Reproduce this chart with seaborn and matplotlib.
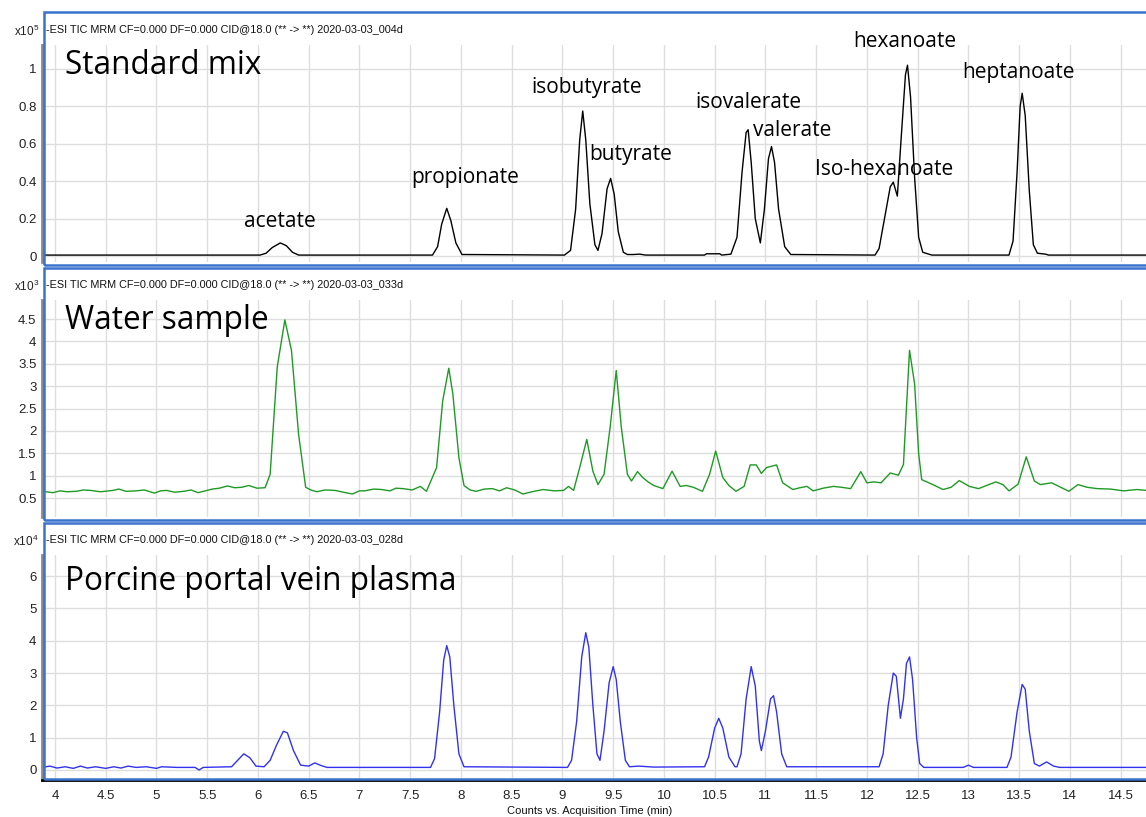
import matplotlib
matplotlib.use("Agg")
import matplotlib.pyplot as plt
import seaborn as sns
from matplotlib.patches import Rectangle

# ---- data (time in min, signal in axis units) ----
std_time = [3.87, 6.02, 6.08, 6.14, 6.22, 6.28, 6.34, 6.40, 7.72, 7.77, 7.81, 7.86, 7.90, 7.95, 8.01,
            9.02, 9.08, 9.13, 9.17, 9.20, 9.23, 9.27, 9.32, 9.35, 9.39, 9.44, 9.475, 9.51, 9.55, 9.60,
            9.64, 9.70, 9.76, 9.82, 10.40, 10.42, 10.55, 10.57, 10.66, 10.72, 10.77, 10.81, 10.83,
            10.86, 10.90, 10.95, 10.99, 11.03, 11.06, 11.09, 11.13, 11.19, 11.25, 12.08, 12.12, 12.18,
            12.23, 12.26, 12.30, 12.34, 12.38, 12.40, 12.43, 12.47, 12.51, 12.55, 12.61, 12.64, 13.40,
            13.44, 13.48, 13.51, 13.53, 13.56, 13.60, 13.64, 13.68, 13.76, 13.79, 14.80]
std_signal = [0.005, 0.005, 0.015, 0.045, 0.07, 0.055, 0.02, 0.005, 0.005, 0.05, 0.17, 0.255, 0.19, 0.07, 0.008,
              0.005, 0.03, 0.25, 0.62, 0.775, 0.62, 0.28, 0.06, 0.03, 0.12, 0.36, 0.415, 0.33, 0.13, 0.02,
              0.008, 0.008, 0.01, 0.005, 0.005, 0.012, 0.012, 0.005, 0.01, 0.1, 0.45, 0.66, 0.675,
              0.5, 0.2, 0.07, 0.25, 0.52, 0.585, 0.5, 0.25, 0.05, 0.008, 0.005, 0.04, 0.22,
              0.37, 0.395, 0.32, 0.65, 0.97, 1.02, 0.85, 0.42, 0.1, 0.02, 0.01, 0.005, 0.005,
              0.08, 0.45, 0.8, 0.87, 0.75, 0.35, 0.06, 0.015, 0.01, 0.005, 0.005]

water_time = [3.87, 3.91, 3.98, 4.05, 4.12, 4.21, 4.28, 4.35, 4.45, 4.57, 4.63, 4.70, 4.80, 4.88, 4.98,
              5.04, 5.10, 5.18, 5.27, 5.34, 5.41, 5.48, 5.55, 5.62, 5.70, 5.77, 5.84, 5.91, 5.99,
              6.07, 6.12, 6.19, 6.265, 6.33, 6.40, 6.47, 6.52, 6.58, 6.66, 6.76, 6.84, 6.93, 7.00, 7.05,
              7.14, 7.22, 7.30, 7.36, 7.43, 7.52, 7.60, 7.66,
              7.76, 7.82, 7.88, 7.92, 7.98, 8.03, 8.09, 8.15, 8.23, 8.31, 8.38, 8.45, 8.53, 8.61, 8.70,
              8.81, 8.92, 9.01, 9.06, 9.11, 9.17,
              9.24, 9.30, 9.35, 9.41, 9.47, 9.53, 9.58, 9.64, 9.68, 9.74, 9.79, 9.85, 9.90, 9.99, 10.08,
              10.16, 10.22, 10.29, 10.38, 10.45, 10.51, 10.58, 10.64, 10.71, 10.79, 10.85, 10.91, 10.96,
              11.01, 11.11, 11.17, 11.27, 11.34, 11.41, 11.47, 11.57, 11.67, 11.75, 11.84, 11.94, 12.00,
              12.07, 12.14, 12.23, 12.31, 12.36, 12.42, 12.47, 12.51, 12.54, 12.65, 12.75, 12.83, 12.91,
              13.01, 13.10, 13.18, 13.27, 13.34, 13.40, 13.49, 13.57, 13.65, 13.71,
              13.82, 13.90, 13.99, 14.08, 14.17, 14.27, 14.40, 14.53, 14.66, 14.80]
water_signal = [0.64, 0.64, 0.62, 0.66, 0.64, 0.65, 0.68, 0.67, 0.64, 0.67, 0.70, 0.65, 0.66, 0.68, 0.61,
                0.66, 0.67, 0.63, 0.65, 0.68, 0.62, 0.66, 0.70, 0.72, 0.77, 0.73, 0.74, 0.78, 0.72,
                0.73, 1.03, 3.43, 4.48, 3.80, 1.93, 0.74, 0.68, 0.64, 0.68, 0.67, 0.63, 0.59, 0.66, 0.66,
                0.70, 0.69, 0.66, 0.72, 0.71, 0.68, 0.76, 0.65,
                1.18, 2.67, 3.40, 2.83, 1.40, 0.78, 0.68, 0.65, 0.70, 0.71, 0.66, 0.73, 0.68, 0.59, 0.64,
                0.69, 0.66, 0.67, 0.76, 0.67, 1.18,
                1.81, 1.10, 0.80, 1.03, 2.08, 3.35, 2.08, 1.03, 0.88, 1.09, 0.96, 0.85, 0.78, 0.71, 1.10,
                0.76, 0.78, 0.74, 0.65, 1.03, 1.55, 0.96, 0.78, 0.65, 0.76, 1.24, 1.24, 1.05,
                1.18, 1.24, 0.84, 0.69, 0.73, 0.76, 0.66, 0.72, 0.76, 0.74, 0.71, 1.09, 0.84,
                0.86, 0.84, 1.06, 1.01, 1.25, 3.80, 3.05, 1.49, 0.91, 0.80, 0.69, 0.74, 0.89,
                0.76, 0.71, 0.78, 0.86, 0.80, 0.66, 0.81, 1.42, 0.88, 0.80,
                0.84, 0.75, 0.65, 0.80, 0.74, 0.71, 0.70, 0.66, 0.69, 0.66]

plasma_time = [3.87, 3.95, 4.02, 4.10, 4.18, 4.25, 4.32, 4.40, 4.50, 4.58, 4.65, 4.72, 4.80, 4.90, 5.00,
               5.05, 5.20, 5.38, 5.42, 5.46, 5.74, 5.80, 5.86, 5.92, 5.98, 6.06, 6.12, 6.18, 6.25, 6.29,
               6.35, 6.42, 6.50, 6.56, 6.62, 6.68, 7.70, 7.74, 7.79, 7.83, 7.86, 7.89, 7.93, 7.98, 8.03,
               9.05, 9.09, 9.14, 9.19, 9.23, 9.26, 9.30, 9.34, 9.37, 9.41, 9.46, 9.50, 9.53, 9.57, 9.62,
               9.66, 9.75, 9.90, 10.40, 10.44, 10.50, 10.54, 10.58, 10.64, 10.70, 10.72, 10.76, 10.81,
               10.86, 10.90, 10.94, 10.96, 11.00, 11.05, 11.08, 11.11, 11.16, 11.21, 12.12, 12.16, 12.21,
               12.26, 12.29, 12.33, 12.36, 12.39, 12.42, 12.45, 12.49, 12.52, 12.56, 12.95, 13.00, 13.05,
               13.38, 13.42, 13.48, 13.53, 13.56, 13.60, 13.65, 13.70, 13.77, 13.84, 13.90, 14.80]
plasma_signal = [0.08, 0.12, 0.06, 0.10, 0.05, 0.12, 0.06, 0.10, 0.05, 0.10, 0.06, 0.12, 0.08, 0.10, 0.05,
                 0.10, 0.08, 0.08, 0.00, 0.08, 0.10, 0.30, 0.50, 0.38, 0.12, 0.10, 0.30, 0.75, 1.20, 1.15,
                 0.60, 0.15, 0.12, 0.22, 0.14, 0.08, 0.08, 0.35, 1.80, 3.40, 3.85, 3.50, 2.00, 0.50, 0.10,
                 0.08, 0.30, 1.50, 3.50, 4.25, 3.80, 2.00, 0.50, 0.30, 1.20, 2.70, 3.20, 2.80, 1.50, 0.30,
                 0.10, 0.12, 0.09, 0.10, 0.40, 1.30, 1.60, 1.30, 0.40, 0.10, 0.10, 0.50, 2.20,
                 3.20, 2.60, 0.90, 0.60, 1.20, 2.20, 2.30, 1.80, 0.50, 0.10, 0.10, 0.50, 2.00,
                 3.00, 2.90, 1.60, 2.20, 3.30, 3.50, 2.80, 1.00, 0.20, 0.08, 0.08, 0.15, 0.08,
                 0.08, 0.40, 1.80, 2.65, 2.50, 1.20, 0.20, 0.12, 0.25, 0.12, 0.08, 0.08]

peak_names = ["acetate", "propionate", "isobutyrate", "butyrate", "isovalerate", "valerate",
              "Iso-hexanoate", "hexanoate", "heptanoate"]
peak_label_time = [6.22, 8.04, 9.24, 9.67, 10.83, 11.26, 12.17, 12.37, 13.49]
peak_label_height = [0.187, 0.42, 0.90, 0.54, 0.82, 0.67, 0.465, 1.145, 0.98]

x_ticks = [4, 4.5, 5, 5.5, 6, 6.5, 7, 7.5, 8, 8.5, 9, 9.5, 10, 10.5, 11, 11.5, 12, 12.5, 13, 13.5, 14, 14.5]
std_yticks = [0, 0.2, 0.4, 0.6, 0.8, 1]
water_yticks = [0.5, 1, 1.5, 2, 2.5, 3, 3.5, 4, 4.5]
plasma_yticks = [0, 1, 2, 3, 4, 5, 6]

headers = ["-ESI TIC MRM CF=0.000 DF=0.000 CID@18.0 (** -> **) 2020-03-03_004d",
           "-ESI TIC MRM CF=0.000 DF=0.000 CID@18.0 (** -> **) 2020-03-03_033d",
           "-ESI TIC MRM CF=0.000 DF=0.000 CID@18.0 (** -> **) 2020-03-03_028d"]
exponents = [r"x10$^5$", r"x10$^3$", r"x10$^4$"]
sample_names = ["Standard mix", "Water sample", "Porcine portal vein plasma"]

# ---- figure ----
sns.set_style("white")
plt.rcParams['font.family'] = ['DejaVu Sans']
plt.rcParams['mathtext.default'] = 'regular'

W, H = 1146, 817
fig = plt.figure(figsize=(W / 100, H / 100), dpi=100)


def fx(px):
    return px / W


def fy(py):
    return 1 - py / H


narrow = ['Liberation Sans Narrow', 'Liberation Sans']
frame_blue = '#3a72cc'

# (axes top, axes bottom, ylim, frame top, frame bottom, header y, title y)
panels = [
    (45, 262, (-0.032, 1.128), 12, 265, 30, 66),
    (300, 517, (0.076, 4.925), 268, 520, 285, 320),
    (555, 780, (-0.31, 6.656), 523, 779, 540, 581),
]
series = [(std_time, std_signal, 'black', std_yticks),
          (water_time, water_signal, '#1f9a25', water_yticks),
          (plasma_time, plasma_signal, '#3232ee', plasma_yticks)]

axes = []
for i, (top, bottom, ylim, ftop, fbot, hy, ty) in enumerate(panels):
    ax = fig.add_axes([fx(42), fy(bottom), 1 - fx(42), fy(top) - fy(bottom)])
    t, s, col, yt = series[i]
    sns.lineplot(x=t, y=s, ax=ax, color=col, linewidth=1.0, estimator=None, sort=False)
    ax.set_xlim(3.872, 14.75)
    ax.set_ylim(*ylim)
    ax.set_xticks(x_ticks)
    ax.set_yticks(yt)
    ax.set_yticklabels([f"{v:g}" for v in yt], family=narrow, fontsize=9.5)
    ax.grid(True, color='#dedede', linewidth=1.0)
    ax.set_axisbelow(True)
    for side in ['top', 'right']:
        ax.spines[side].set_visible(False)
    ax.spines['left'].set_color('#8a8a8a')
    ax.spines['left'].set_linewidth(2)
    ax.tick_params(axis='y', length=3, width=0.8, color='#555555', pad=1, labelcolor='#222222')
    if i < 2:
        ax.spines['bottom'].set_visible(False)
        ax.tick_params(axis='x', length=0, labelbottom=False)
    else:
        ax.spines['bottom'].set_color('black')
        ax.spines['bottom'].set_linewidth(2)
        ax.set_xticklabels([f"{v:g}" for v in x_ticks], family=narrow, fontsize=9.5)
        ax.tick_params(axis='x', length=4, width=0.8, color='#444444', pad=3, labelcolor='#222222')
    ax.set_xlabel("")
    ax.set_ylabel("")
    axes.append(ax)

    fig.patches.append(Rectangle((fx(44), fy(fbot)), 1.2, fy(ftop) - fy(fbot), transform=fig.transFigure,
                                 fill=False, edgecolor=frame_blue, linewidth=1.8, zorder=5))
    fig.text(fx(46), fy(hy), headers[i], fontsize=7.8, family=narrow, va='center', ha='left', color='#111111')
    fig.text(fx(39), fy(hy + 1), exponents[i], fontsize=8.5, family=narrow, va='center', ha='right',
             color='#222222')
    fig.text(fx(65), fy(ty), sample_names[i], fontsize=22.7, family=['Open Sans', 'DejaVu Sans'],
             va='center', ha='left', color='black')

for name, tx, hy in zip(peak_names, peak_label_time, peak_label_height):
    axes[0].text(tx, hy, name, fontsize=15, family=['Open Sans', 'DejaVu Sans'], ha='center', va='center',
                 color='black')

fig.text(fx(590), fy(811), "Counts vs. Acquisition Time (min)", fontsize=8, family=narrow,
         ha='center', va='center', color='#111111')

fig.savefig("out.png", dpi=100)
